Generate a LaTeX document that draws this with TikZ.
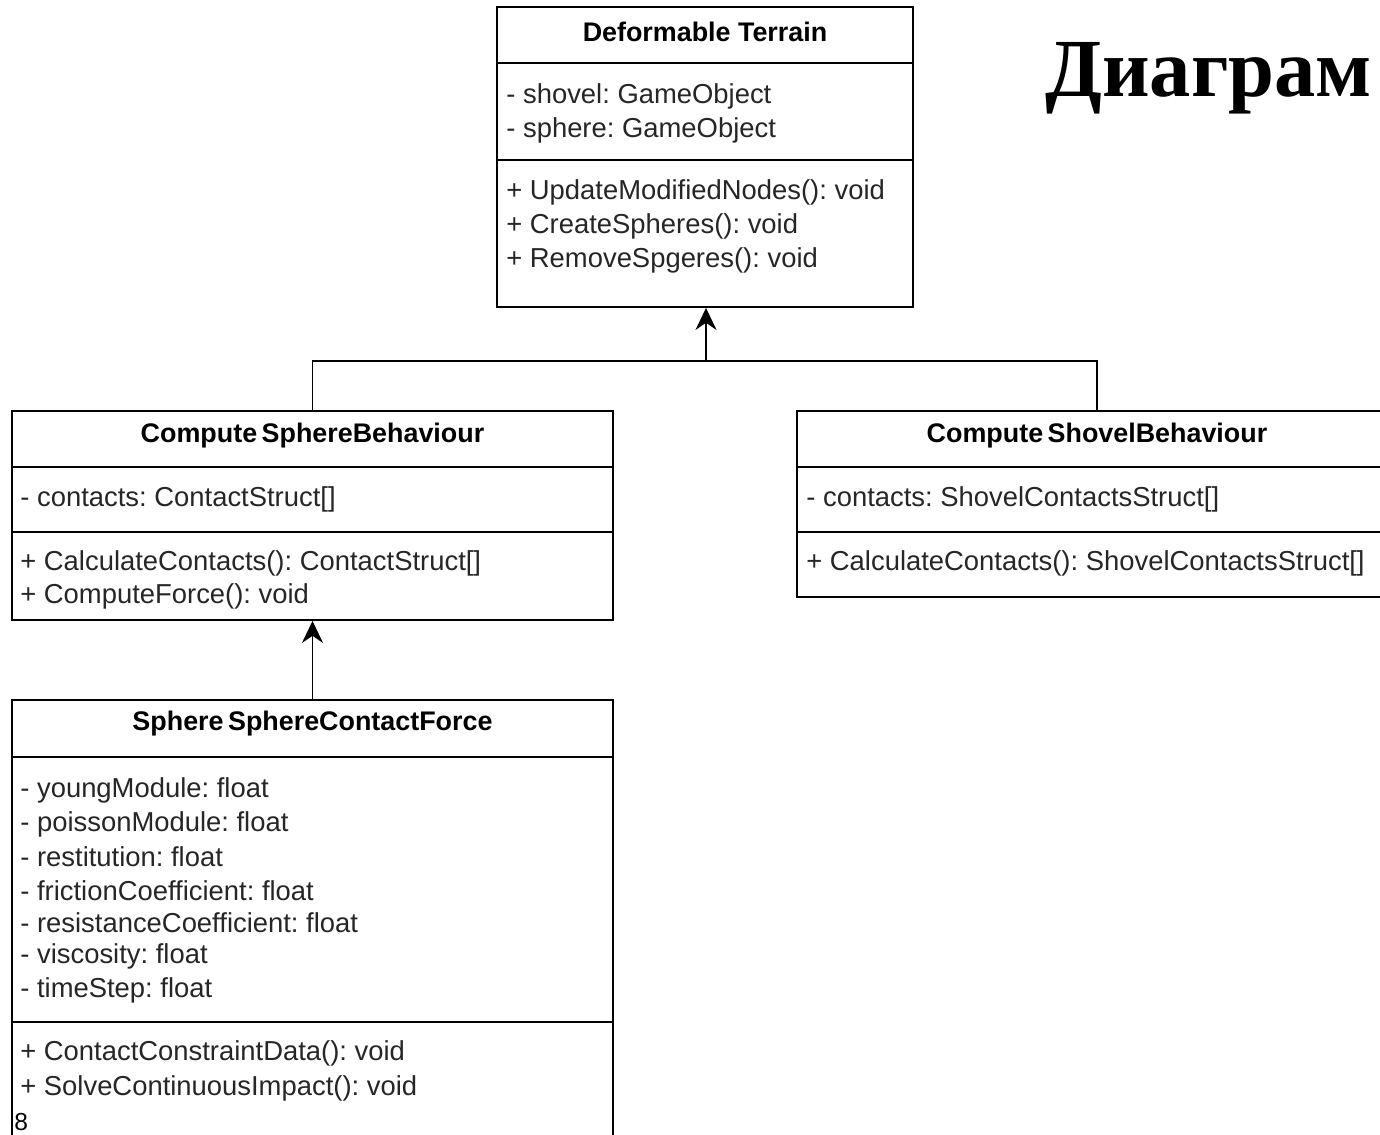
\documentclass[tikz,border=0pt]{standalone}
\usepackage{fontspec}
\setsansfont{Liberation Sans}
\newfontfamily\titlefont{Liberation Serif}
\frenchspacing
\usetikzlibrary{arrows.meta, positioning}
\tikzset{
    classbox/.style={draw, line width=1.1pt, rectangle, inner sep=0pt},
    classline/.style={line width=1.1pt},
    classname/.style={font=\sffamily\bfseries\fontsize{15.3}{18}\selectfont},
    member/.style={anchor=west, inner sep=0pt, text=black!85,
        font=\sffamily\fontsize{15.6}{18}\selectfont},
    inherits/.style={line width=1.1pt, -{Stealth[length=0.44cm, width=0.42cm]}},
}

\begin{document}
\begin{tikzpicture}[x=0.02cm, y=-0.02cm]
    \useasboundingbox (0,0) rectangle (1380,1135);

    % classes
    \node[classbox, minimum width=8.32cm, minimum height=6cm] (terrain)
        at (705,157) {};
    \node[classbox, minimum width=12.02cm, minimum height=4.18cm] (spherebeh)
        at (312.5,515.5) {};
    \node[classbox, minimum width=12cm, minimum height=3.72cm] (shovelbeh)
        at (1097,504) {};
    \node[classbox, minimum width=12.02cm, minimum height=9cm] (contactforce)
        at (312.5,925) {};

    % compartments
    \draw[classline] (497,63) -- (913,63) (497,160) -- (913,160);
    \draw[classline] (12,467) -- (613,467) (12,532) -- (613,532);
    \draw[classline] (797,467) -- (1397,467) (797,532) -- (1397,532);
    \draw[classline] (12,757) -- (613,757) (12,1022) -- (613,1022);

    % names
    \node[classname] (terrainname) at (705,32) {Deformable Terrain};
    \node[classname] (spherebehname) at (312.5,436)
        {Compute\,SphereBehaviour};
    \node[classname] (shovelbehname) at (1097,436)
        {Compute\,ShovelBehaviour};
    \node[classname] (contactforcename) at (312.5,724)
        {Sphere\,SphereContactForce};

    % members
    \node[member] at (506,96) {- shovel: GameObject};
    \node[member] at (506,130) {- sphere: GameObject};
    \node[member] at (506,192) {+ UpdateModifiedNodes(): void};
    \node[member] at (506,226) {+ CreateSpheres(): void};
    \node[member] at (506,260) {+ RemoveSpgeres(): void};

    \node[member] at (20,499) {- contacts: ContactStruct[]};
    \node[member] at (20,563) {+ CalculateContacts(): ContactStruct[]};
    \node[member] at (20,596) {+ ComputeForce(): void};

    \node[member] at (806,499) {- contacts: ShovelContactsStruct[]};
    \node[member] at (806,563) {+ CalculateContacts(): ShovelContactsStruct[]};

    \foreach \y/\txt in {790/youngModule, 824/poissonModule,
        857/restitution, 891/frictionCoefficient,
        923/resistanceCoefficient, 956/viscosity, 990/timeStep}
        \node[member] at (20,\y) {- \txt: float};
    \node[member] at (20,1053) {+ ContactConstraintData(): void};
    \node[member] at (20,1088) {+ SolveContinuousImpact(): void};

    % inheritance
    \coordinate (fork) at (706,361);
    \draw[classline] (spherebeh.north) |- (fork) -| (shovelbeh.north);
    \draw[inherits] (fork) -- (terrain.south -| fork);
    \draw[inherits] (contactforce.north) -- (spherebeh.south);

    % page number and title
    \node[anchor=west, inner sep=0pt, font=\sffamily\fontsize{14}{16}\selectfont]
        (pagenum) at (14,1122) {8};
    \node[anchor=west, inner sep=0pt, font=\titlefont\bfseries\fontsize{47}{56}\selectfont]
        (title) at (1045,78) {Диаграм};
\end{tikzpicture}
\end{document}
